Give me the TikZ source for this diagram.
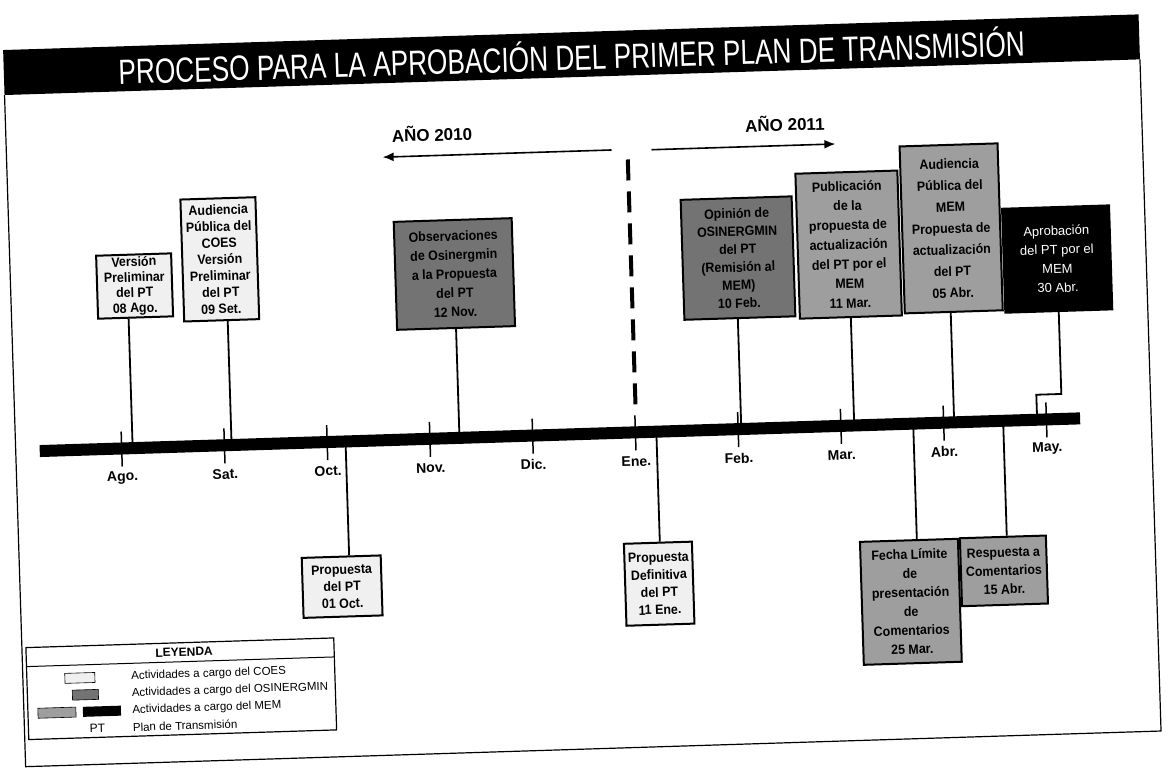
\documentclass[tikz,border=0pt]{standalone}
\usepackage{fontspec}
\setmainfont{Liberation Sans}
\newfontfamily\narrowfont[FakeStretch=0.75]{Liberation Sans}
\newfontfamily\boxfont[FakeStretch=0.92]{Liberation Sans}
\usetikzlibrary{arrows.meta}

\begin{document}
\begin{tikzpicture}[x=1pt, y=-1pt,
    coes/.style={draw, line width=2pt, fill=black!6, align=center, inner sep=1.5pt,
        font=\boxfont\fontsize{13.5}{#1}\selectfont\bfseries},
    coes/.default=15.5,
    osi/.style={coes=#1, fill=black!55},
    osi/.default=18,
    mem/.style={coes=#1, fill=black!38},
    mem/.default=18,
    memdark/.style={draw, line width=2pt, fill=black, text=white, align=center,
        font=\fontsize{13}{19}\selectfont},
    stem/.style={line width=1.8pt},
    month/.style={font=\fontsize{14}{16}\selectfont\bfseries},
    year/.style={font=\fontsize{17}{20}\selectfont\bfseries},
    legtext/.style={anchor=west, font=\fontsize{11.5}{13}\selectfont},
]
\useasboundingbox (0,0) rectangle (1166,776);

\begin{scope}[rotate around={1.8:(583,388)}, transform shape]

    % Frame and title bar
    \draw[line width=1.2pt] (14,77) -- (14,749) -- (1150,749) -- (1150,77);
    \fill (14,32) rectangle (1150,77);
    \node[text=white, font=\narrowfont\fontsize{35}{40}\selectfont] (title) at (582,55)
        {PROCESO PARA LA APROBACIÓN DEL PRIMER PLAN DE TRANSMISIÓN};

    % Year arrows and divider
    \coordinate (y10a) at (619,151);
    \coordinate (y10b) at (390,151);
    \coordinate (y11a) at (659,152);
    \coordinate (y11b) at (843,152);
    \draw[line width=1.6pt, -{Latex[length=11pt,width=9pt]}] (y10a) -- (y10b);
    \draw[line width=1.6pt, -{Latex[length=11pt,width=9pt]}] (y11a) -- (y11b);
    \node[year] (y10) at (440,129) {AÑO 2010};
    \node[year] (y11) at (793,130) {AÑO 2011};
    \coordinate (dtop) at (635,161);
    \coordinate (dbot) at (635,407);
    \draw[line width=4pt, dash pattern=on 21pt off 11pt] (dtop) -- (dbot);

    % Boxes above the line
    \node[coes, minimum width=75, minimum height=63] (v1) at (138,272)
        {Versión\\Preliminar\\del PT\\08 Ago.};
    \node[coes=16.5, minimum width=75, minimum height=122] (v2) at (224,248)
        {Audiencia\\Pública del\\COES\\Versión\\Preliminar\\del PT\\09 Set.};
    \node[osi=19, minimum width=118, minimum height=108] (v3) at (458,270)
        {Observaciones\\de Osinergmin\\a la Propuesta\\del PT\\12 Nov.};
    \node[osi, minimum width=111, minimum height=120] (v4) at (742,263)
        {Opinión de\\OSINERGMIN\\del PT\\(Remisión al\\MEM)\\10 Feb.};
    \node[mem=19.5, minimum width=102, minimum height=145] (v5) at (853,253)
        {Publicación\\de la\\propuesta de\\actualización\\del PT por el\\MEM\\11 Mar.};
    \node[mem=21.5, minimum width=98, minimum height=167] (v6) at (956,240)
        {Audiencia\\Pública del\\MEM\\Propuesta de\\actualización\\del PT\\05 Abr.};
    \node[memdark, minimum width=107, minimum height=104] (v7) at (1061,274)
        {Aprobación\\del PT por el\\MEM\\30 Abr.};

    % Boxes below the line
    \node[coes=17, minimum width=79, minimum height=60] (b1) at (336,579)
        {Propuesta\\del PT\\01 Oct.};
    \node[coes=17.5, minimum width=68, minimum height=82] (b2) at (653,586)
        {Propuesta\\Definitiva\\del PT\\11 Ene.};
    \node[mem=19, minimum width=98, minimum height=123] (b3) at (904,612)
        {Fecha Límite\\de\\presentación\\de\\Comentarios\\25 Mar.};
    \node[mem=18.5, minimum width=86, minimum height=68] (b4) at (998,584)
        {Respuesta a\\Comentarios\\15 Abr.};

    % Stems to the time line
    \foreach \b/\x/\a in {v1/131/south, v2/230/south, v3/458/south, v4/740/south,
                          v5/853/south, v6/953/south, b1/344/north, b2/655/north,
                          b3/912/north, b4/1002/north} {
        \coordinate (f\b) at (\x,434);
        \draw[stem] (f\b) -- (f\b |- \b.\a);
    }
    \coordinate (fv7) at (1036,434);
    \coordinate (jog) at (1061,409);
    \draw[stem] (v7.south) -- (jog) -- (jog -| fv7) -- (fv7);

    % Time line with months
    \coordinate (tl) at (38,434);
    \coordinate (tr) at (1079,434);
    \draw[line width=12pt] (tl) -- (tr);
    \foreach \m [count=\i from 0] in {Ago.,Sat.,Oct.,Nov.,Dic.,Ene.,Feb.,Mar.,Abr.,May.} {
        \draw[line width=1.5pt] (120+102.8*\i,417) -- (120+102.8*\i,452);
        \node[month] (lab\i) at (120+102.8*\i,463) {\m};
    }

    % Legend Box
    \begin{scope}[shift={(18,630)}]
        \draw[line width=1.2pt] (0,0) rectangle (308,92);
        \draw[line width=1pt] (0,19) -- (308,19);
        \node[font=\fontsize{12}{14}\selectfont\bfseries] (leyenda) at (158,9.5) {LEYENDA};
        \draw[fill=black!6, line width=0.6pt] (38,27) rectangle (68,37); % COES
        \node[legtext] (l1) at (101,32) {Actividades a cargo del COES};
        \draw[fill=black!55, line width=0.6pt] (45,44) rectangle (71,54); % OSINERGMIN
        \node[legtext] (l2) at (101,49) {Actividades a cargo del OSINERGMIN};
        \draw[fill=black!38, line width=0.6pt] (10,61) rectangle (48,71); % MEM
        \fill (55,61) rectangle (93,71);
        \node[legtext] (l3) at (101,66) {Actividades a cargo del MEM};
        \node[font=\fontsize{12}{14}\selectfont] (pt) at (69,83) {PT};
        \node[legtext] (l4) at (101,83) {Plan de Transmisión};
    \end{scope}

\end{scope}
\end{tikzpicture}
\end{document}
